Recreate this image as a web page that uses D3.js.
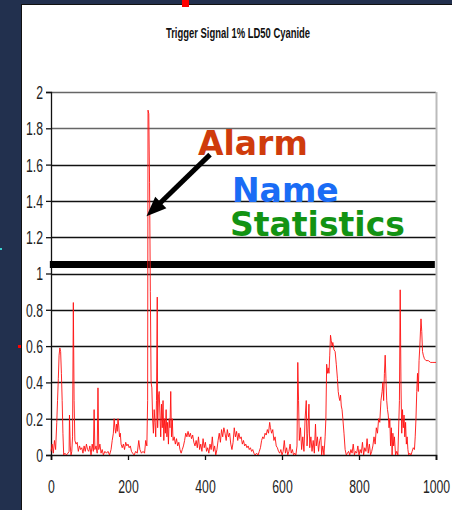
<!DOCTYPE html>
<html><head><meta charset="utf-8">
<script src="https://cdn.jsdelivr.net/npm/d3@7"></script>
<style>
html,body{margin:0;padding:0;background:#22304e;}
svg{display:block;}
</style></head>
<body>
<svg id="c" width="452" height="510"></svg>
<script>
// ---- data ----
const chartTitle = "Trigger Signal 1% LD50 Cyanide";
const xTicks = [0, 200, 400, 600, 800, 1000];
const yTicks = [0, 0.2, 0.4, 0.6, 0.8, 1, 1.2, 1.4, 1.6, 1.8, 2];
const alarmThreshold = 1.05;
const sampleX = [0,3,6,9,12,15,17,19,21,23,25,27,29,31,33,36,40,44,47,48,50,52,54,56,58,60,62,65,68,71,74,77,80,83,86,89,92,95,98,101,104,107,110,112,114,117,120,122,124,127,130,133,136,140,144,148,152,156,159,162,164,166,168,170,172,174,176,178,180,182,185,188,191,194,197,200,203,206,209,212,216,220,224,228,231,235,239,243,246,249,251,252,254,256,258,260,262,264,266,268,270,272,274,276,277,279,281,283,285,287,289,291,293,295,297,299,301,303,305,307,309,311,313,315,317,320,323,326,329,332,335,338,341,344,347,350,353,356,359,362,365,368,371,374,377,380,383,386,389,392,395,398,401,404,407,410,413,416,419,422,425,428,431,434,437,440,443,446,449,452,455,458,461,464,467,470,473,476,479,482,485,488,491,494,497,500,503,506,509,512,515,518,521,524,527,530,534,538,541,544,547,550,553,556,559,562,565,568,570,573,576,579,582,585,588,591,594,597,600,603,606,609,612,615,618,621,624,627,630,633,636,639,641,643,645,648,651,654,657,660,663,665,667,670,672,675,678,681,684,687,689,692,695,698,701,703,706,709,712,714,716,718,720,722,724,726,728,730,732,735,738,741,744,746,748,750,752,754,756,758,761,764,767,770,773,776,779,782,785,788,791,794,797,800,803,806,809,812,815,818,821,824,827,830,833,836,839,842,845,848,851,854,857,860,862,864,866,868,870,872,874,876,878,880,882,884,886,888,890,892,895,898,901,905,907,909,911,913,915,917,919,921,923,925,927,929,932,935,938,941,944,946,948,950,952,954,956,958,960,961,963,965,967,970,974,980,986,992,1000];
const signal = [0.02,0.06,0.01,0.08,0.03,0.18,0.3,0.42,0.55,0.59,0.57,0.45,0.3,0.12,0.0,0.01,0.0,0.01,0.02,0.22,0.05,0.0,0.02,0.1,0.84,0.3,0.08,0.06,0.07,0.02,0.05,0.03,0.04,0.01,0.05,0.02,0.06,0.03,0.02,0.05,0.0,0.06,0.02,0.25,0.03,0.05,0.01,0.37,0.03,0.06,0.01,0.03,0.0,0.02,0.01,0.02,0.0,0.03,0.08,0.12,0.2,0.15,0.12,0.17,0.13,0.2,0.16,0.1,0.12,0.06,0.04,0.06,0.03,0.07,0.05,0.06,0.04,0.05,0.02,0.01,0.0,0.02,0.01,0.08,0.03,0.01,0.02,0.01,0.08,0.05,0.3,1.9,1.88,1.5,0.9,0.4,0.37,0.2,0.12,0.25,0.18,0.1,0.3,0.87,0.15,0.32,0.35,0.22,0.1,0.28,0.15,0.3,0.08,0.2,0.12,0.25,0.1,0.18,0.06,0.2,0.15,0.35,0.1,0.2,0.08,0.1,0.06,0.09,0.05,0.07,0.03,0.01,0.03,0.05,0.08,0.12,0.1,0.13,0.1,0.12,0.09,0.11,0.07,0.05,0.08,0.04,0.1,0.03,0.06,0.02,0.09,0.04,0.07,0.02,0.04,0.01,0.06,0.03,0.1,0.02,0.05,0.0,0.03,0.08,0.12,0.07,0.14,0.1,0.15,0.12,0.08,0.14,0.1,0.12,0.06,0.03,0.07,0.15,0.1,0.13,0.08,0.12,0.09,0.1,0.06,0.08,0.05,0.06,0.04,0.05,0.03,0.04,0.02,0.03,0.01,0.0,0.01,0.0,0.02,0.04,0.08,0.1,0.09,0.12,0.11,0.14,0.12,0.18,0.15,0.12,0.14,0.08,0.1,0.05,0.04,0.02,0.01,0.03,0.0,0.02,0.08,0.01,0.04,0.0,0.02,0.06,0.01,0.03,0.0,0.01,0.0,0.05,0.51,0.3,0.08,0.15,0.03,0.1,0.02,0.2,0.3,0.05,0.12,0.28,0.04,0.1,0.02,0.08,0.01,0.17,0.05,0.1,0.02,0.08,0.1,0.0,0.05,0.0,0.1,0.2,0.5,0.45,0.48,0.45,0.55,0.66,0.63,0.6,0.62,0.58,0.57,0.5,0.42,0.35,0.32,0.3,0.33,0.27,0.25,0.2,0.12,0.03,0.0,0.01,0.02,0.0,0.03,0.01,0.06,0.0,0.02,0.01,0.05,0.0,0.03,0.01,0.07,0.0,0.04,0.02,0.09,0.01,0.06,0.0,0.02,0.05,0.1,0.06,0.15,0.12,0.2,0.18,0.3,0.35,0.4,0.3,0.45,0.55,0.42,0.3,0.25,0.22,0.15,0.2,0.05,0.15,0.0,0.12,0.05,0.1,0.0,0.02,0.0,0.3,0.91,0.4,0.12,0.25,0.15,0.22,0.1,0.18,0.06,0.1,0.03,0.0,0.01,0.0,0.02,0.04,0.03,0.1,0.2,0.35,0.45,0.35,0.52,0.6,0.7,0.75,0.68,0.57,0.55,0.53,0.52,0.52,0.51,0.51,0.51];
// annotation text and arrow anchor (data units)
const annoLabels = ["Alarm", "Name", "Statistics"];
const annoColors = ["#cf3b0c", "#1a6cf5", "#139313"];
const arrowFrom = [413, 1.655];
const arrowTo = [248, 1.315];

// ---- drawing ----
const svg = d3.select("#c");
svg.append("rect").attr("x", 0).attr("y", 0).attr("width", 452).attr("height", 510).attr("fill", "#22304e");
svg.append("rect").attr("x", 21).attr("y", 4).attr("width", 431).attr("height", 506).attr("fill", "#ffffff");
svg.append("line").attr("x1", 21).attr("x2", 452).attr("y1", 4.5).attr("y2", 4.5).attr("stroke", "#111").attr("stroke-width", 1);
svg.append("line").attr("x1", 21.5).attr("x2", 21.5).attr("y1", 4).attr("y2", 510).attr("stroke", "#111").attr("stroke-width", 1);
svg.append("rect").attr("x", 182).attr("y", 0).attr("width", 7).attr("height", 7).attr("fill", "#ff0000");
svg.append("rect").attr("x", 18).attr("y", 345).attr("width", 3).attr("height", 3).attr("fill", "#ff0000");
svg.append("rect").attr("x", 0).attr("y", 248).attr("width", 2).attr("height", 2).attr("fill", "#3ad0d0");

const x = d3.scaleLinear().domain([0, 1000]).range([51, 436]);
const y = d3.scaleLinear().domain([0, 2]).range([455, 92]);

// title
svg.append("text")
  .attr("transform", "translate(238,38) scale(0.63,1)")
  .attr("text-anchor", "middle")
  .attr("font-family", "'Liberation Sans Narrow','Liberation Sans',sans-serif")
  .attr("font-weight", "bold").attr("font-size", 15).attr("fill", "#111")
  .text(chartTitle);

// gridlines
svg.append("g").selectAll("line").data(yTicks.filter(d => d > 0)).join("line")
  .attr("x1", x(0)).attr("x2", x(1000))
  .attr("y1", d => Math.round(y(d)) + 0.5).attr("y2", d => Math.round(y(d)) + 0.5)
  .attr("stroke", d => d >= 1.8 ? "#666" : "#111").attr("stroke-width", 1.6);
svg.append("line").attr("x1", x(1000) + 0.5).attr("x2", x(1000) + 0.5).attr("y1", y(2)).attr("y2", y(0) + 5)
  .attr("stroke", "#bbb").attr("stroke-width", 2);

// axes
const fontAxis = "'Liberation Sans Narrow','Liberation Sans',sans-serif";
const yAxis = svg.append("g").attr("transform", `translate(${x(0)},0)`)
  .call(d3.axisLeft(y).tickValues(yTicks).tickSize(5).tickFormat(d3.format("~g")));
yAxis.select(".domain").attr("stroke", "#111").attr("stroke-width", 1.3);
yAxis.selectAll(".tick line").attr("stroke", "#111").attr("stroke-width", 1.3);
yAxis.selectAll(".tick text").attr("x", null).attr("dy", "0.36em")
  .attr("transform", "translate(-8,0) scale(0.68,1)")
  .attr("font-family", fontAxis).attr("font-size", 18).attr("fill", "#222");

const xAxis = svg.append("g").attr("transform", `translate(0,${y(0)})`)
  .call(d3.axisBottom(x).tickValues(xTicks).tickSize(5).tickFormat(d3.format("d")));
xAxis.select(".domain").attr("stroke", "#111").attr("stroke-width", 1.6);
xAxis.selectAll(".tick line").attr("stroke", "#111").attr("stroke-width", 1.3);
xAxis.selectAll(".tick text").attr("y", null).attr("dy", null)
  .attr("transform", "translate(0,38) scale(0.68,1)")
  .attr("font-family", fontAxis).attr("font-size", 18).attr("fill", "#222");

// alarm threshold bar
svg.append("line").attr("x1", x(-3)).attr("x2", x(997))
  .attr("y1", y(alarmThreshold)).attr("y2", y(alarmThreshold))
  .attr("stroke", "#000").attr("stroke-width", 7);

// signal line
const pts = sampleX.map((d, i) => [d, signal[i]]);
svg.append("path").datum(pts)
  .attr("fill", "none").attr("stroke", "#ff1010").attr("stroke-width", 1).attr("stroke-opacity", 0.9)
  .attr("d", d3.line().x(d => x(d[0])).y(d => y(d[1])));

// annotation text
const annoPos = [[198, 155], [232, 202], [230, 236]];
svg.append("g").selectAll("text").data(annoLabels).join("text")
  .attr("x", (d, i) => annoPos[i][0]).attr("y", (d, i) => annoPos[i][1])
  .attr("font-family", "'DejaVu Sans',sans-serif").attr("font-weight", "bold").attr("font-size", 33)
  .attr("fill", (d, i) => annoColors[i]).text(d => d);

// arrow
const ax0 = x(arrowFrom[0]), ay0 = y(arrowFrom[1]), ax1 = x(arrowTo[0]), ay1 = y(arrowTo[1]);
const len = Math.hypot(ax1 - ax0, ay1 - ay0), ux = (ax1 - ax0) / len, uy = (ay1 - ay0) / len;
const hl = 20, hw = 8;
const bx = ax1 - ux * hl, by = ay1 - uy * hl;
svg.append("line").attr("x1", ax0).attr("y1", ay0).attr("x2", bx + ux * 2).attr("y2", by + uy * 2)
  .attr("stroke", "#000").attr("stroke-width", 5);
svg.append("path").attr("fill", "#000")
  .attr("d", `M${ax1},${ay1}L${bx - uy * hw},${by + ux * hw}L${bx + uy * hw},${by - ux * hw}Z`);
</script>
</body></html>
